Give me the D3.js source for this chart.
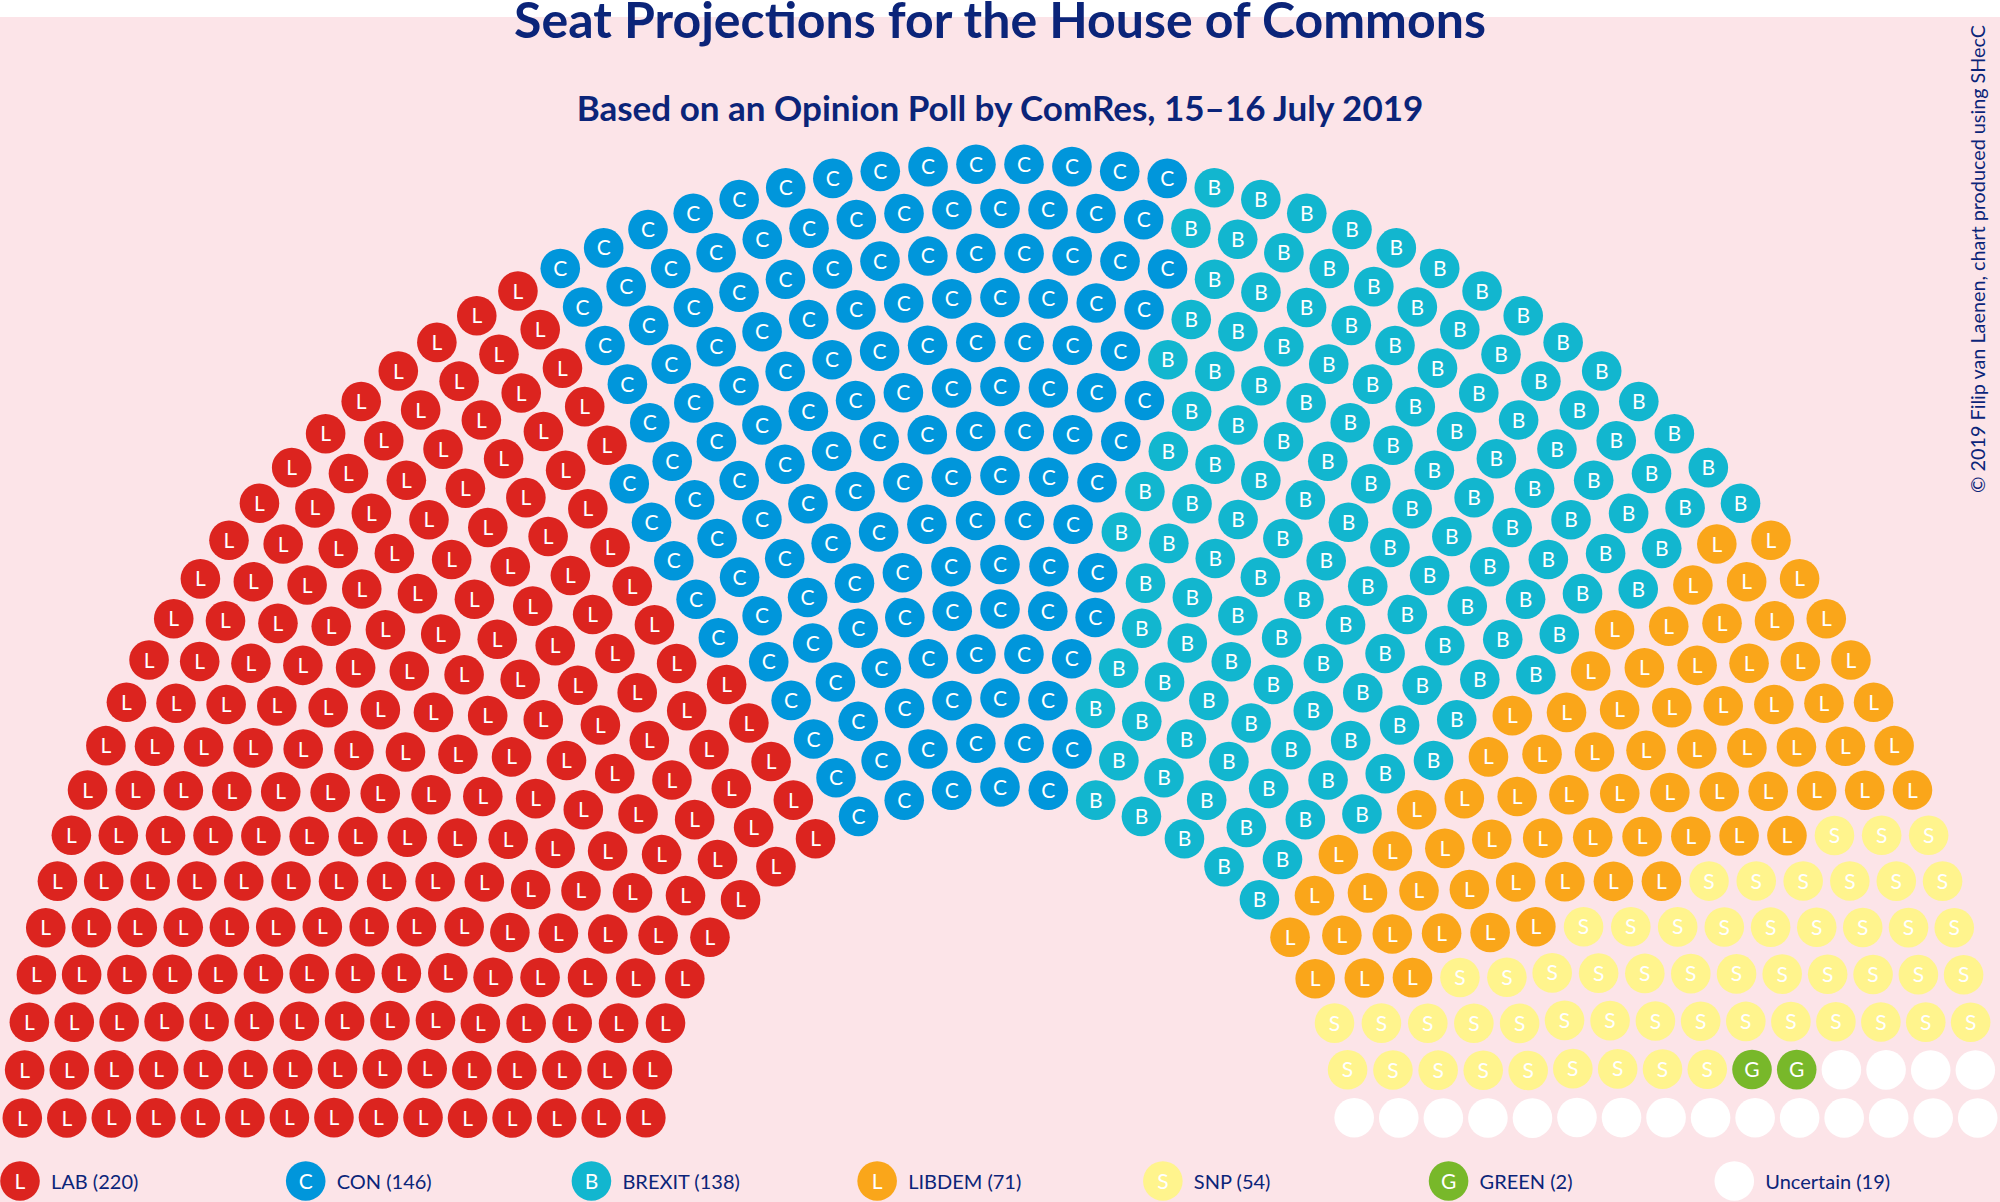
<!DOCTYPE html>
<html>
<head>
<meta charset="utf-8">
<script src="https://cdn.jsdelivr.net/npm/d3@7"></script>
<style>
  html, body { margin: 0; padding: 0; background: #ffffff; }
  svg { display: block; }
</style>
</head>
<body>
<svg id="chart" width="2000" height="1202"></svg>
<script>
// ---- Data ----
const title = "Seat Projections for the House of Commons";
const subtitle = "Based on an Opinion Poll by ComRes, 15–16 July 2019";
const credit = "© 2019 Filip van Laenen, chart produced using SHecC";
const parties = ["LAB", "CON", "BREXIT", "LIBDEM", "SNP", "GREEN", "Uncertain"];
const seatCounts = [220, 146, 138, 71, 54, 2, 19];
const seatLetters = ["L", "C", "B", "L", "S", "G", ""];

// ---- Styles ----
const partyColors = ["#dc241f", "#0096db", "#12b6cf", "#faa61a", "#fff48d", "#78b82a", "#ffffff"];
const navy = "#0b2479";
const bg = "#fce4e8";

const W = 2000, H = 1202;
const svg = d3.select("#chart");

svg.append("rect").attr("x", 0).attr("y", 17).attr("width", W).attr("height", H - 17).attr("fill", bg);

const color = d3.scaleOrdinal().domain(parties).range(partyColors);
const letter = d3.scaleOrdinal().domain(parties).range(seatLetters);

// ---- Hemicycle layout ----
const nRows = 15;
const totalSeats = d3.sum(seatCounts);
const cx = 1000, cy = 1142;
const rowRadius = d3.scaleLinear().domain([0, nRows - 1]).range([355, 978]);
const seatR = 19.8;

// seats per row proportional to radius, largest remainder
const radii = d3.range(nRows).map(i => rowRadius(i));
const sumR = d3.sum(radii);
const exact = radii.map(r => totalSeats * r / sumR);
const perRow = exact.map(Math.floor);
let rest = totalSeats - d3.sum(perRow);
d3.range(nRows).sort((a, b) => (exact[b] - perRow[b]) - (exact[a] - perRow[a]))
  .slice(0, rest).forEach(i => perRow[i] += 1);

let seats = [];
perRow.forEach((n, i) => {
  const r = radii[i];
  for (let j = 0; j < n; j++) {
    const theta = Math.PI - (j + 0.5) * Math.PI / n; // polar angle from +x axis
    const a = Math.PI / 2 - theta; // d3.pointRadial angle (clockwise from top)
    seats.push({ row: i, r, a });
  }
});
seats.sort((p, q) => (p.a - q.a) || (p.r - q.r));

// assign parties in order around the arc
let k = 0;
parties.forEach((p, pi) => {
  for (let s = 0; s < seatCounts[pi]; s++) seats[k++].party = p;
});

const gSeats = svg.append("g").attr("transform", `translate(${cx},${cy})`);
const seatG = gSeats.selectAll("g.seat").data(seats).join("g")
  .attr("class", "seat")
  .attr("transform", d => { const [x, y] = d3.pointRadial(d.a, d.r); return `translate(${x},${y})`; });
seatG.append("circle").attr("r", seatR).attr("fill", d => color(d.party));
seatG.append("text")
  .attr("text-anchor", "middle")
  .attr("dy", "0.36em")
  .attr("fill", "#ffffff")
  .style("font-family", "Lato, sans-serif")
  .style("font-size", "21px")
  .text(d => letter(d.party));

// ---- Titles ----
svg.append("text").attr("x", 1000).attr("y", 38).attr("text-anchor", "middle")
  .attr("fill", navy).style("font-family", "Lato, sans-serif").style("font-weight", "bold")
  .style("font-size", "50px").text(title);
svg.append("text").attr("x", 1000).attr("y", 121).attr("text-anchor", "middle")
  .attr("fill", navy).style("font-family", "Lato, sans-serif").style("font-weight", "bold")
  .style("font-size", "35px").text(subtitle);

// credit
svg.append("text").attr("transform", "translate(1985,493) rotate(-90)")
  .attr("text-anchor", "start").attr("fill", navy)
  .attr("textLength", 468).attr("lengthAdjust", "spacingAndGlyphs")
  .style("font-family", "Lato, sans-serif").style("font-size", "19px").text(credit);

// ---- Legend ----
const legendX = d3.scaleBand().domain(parties).range([0, W]);
const lg = svg.append("g").selectAll("g").data(parties).join("g")
  .attr("transform", d => `translate(${legendX(d) + 20},1181)`);
lg.append("circle").attr("r", seatR).attr("fill", d => color(d));
lg.append("text").attr("text-anchor", "middle").attr("dy", "0.36em").attr("fill", "#ffffff")
  .style("font-family", "Lato, sans-serif").style("font-size", "21px").text(d => letter(d));
lg.append("text").attr("x", 31).attr("y", 8).attr("fill", navy)
  .style("font-family", "Lato, sans-serif").style("font-size", "20px")
  .text((d, i) => `${d} (${seatCounts[i]})`);
</script>
</body>
</html>
